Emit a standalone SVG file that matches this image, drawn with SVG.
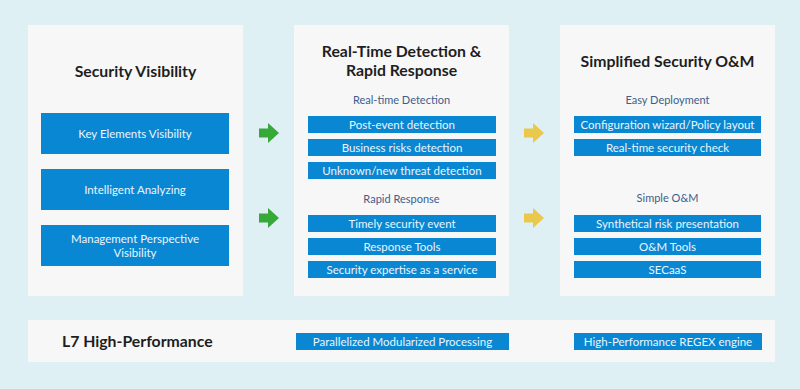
<svg xmlns="http://www.w3.org/2000/svg" width="800" height="389" viewBox="0 0 800 389">
<style>
.panel{fill:#f7f7f7}
.box{fill:#0a87d2}
.bt{font-family:Lato,"Open Sans",sans-serif;font-size:11.5px;fill:#eaf5fc;text-anchor:middle}
.title{font-family:Lato,"Open Sans",sans-serif;font-size:15.8px;font-weight:bold;fill:#1e1e1e;text-anchor:middle}
.sub{font-family:Lato,"Open Sans",sans-serif;font-size:11px;fill:#3d5d8c;text-anchor:middle}
.ga{fill:#36a93a}
.ya{fill:#e9c84c}
</style>
<defs>
<path id="arr" d="M0,-4.5 H9 V-10 L20,0 L9,10 V4.5 H0 Z"/>
</defs>
<rect width="800" height="389" fill="#dff0f5"/>
<g id="visibility">
<rect class="panel" x="28" y="25" width="215" height="271"/>
<text class="title" x="135.5" y="77">Security Visibility</text>
<rect class="box" x="41" y="113" width="188" height="41"/>
<text class="bt" x="135" y="137.5">Key Elements Visibility</text>
<rect class="box" x="41" y="169" width="188" height="41"/>
<text class="bt" x="135" y="193.5">Intelligent Analyzing</text>
<rect class="box" x="41" y="225" width="188" height="41"/>
<text class="bt" x="135" y="243">Management Perspective</text>
<text class="bt" x="135" y="257">Visibility</text>
</g>
<g id="detection">
<rect class="panel" x="294" y="25" width="215" height="271"/>
<text class="title" x="401.5" y="57">Real-Time Detection &amp;</text>
<text class="title" x="401.5" y="76">Rapid Response</text>
<text class="sub" x="401.5" y="104">Real-time Detection</text>
<rect class="box" x="308" y="116" width="188" height="17"/>
<text class="bt" x="402" y="128.5">Post-event detection</text>
<rect class="box" x="308" y="139" width="188" height="17"/>
<text class="bt" x="402" y="151.5">Business risks detection</text>
<rect class="box" x="308" y="162" width="188" height="17"/>
<text class="bt" x="402" y="174.5">Unknown/new threat detection</text>
<text class="sub" x="401.5" y="203">Rapid Response</text>
<rect class="box" x="308" y="215" width="188" height="17"/>
<text class="bt" x="402" y="227.5">Timely security event</text>
<rect class="box" x="308" y="238" width="188" height="17"/>
<text class="bt" x="402" y="250.5">Response Tools</text>
<rect class="box" x="308" y="261" width="188" height="17"/>
<text class="bt" x="402" y="273.5">Security expertise as a service</text>
</g>
<g id="om">
<rect class="panel" x="560" y="25" width="215" height="271"/>
<text class="title" x="667.5" y="67">Simplified Security O&amp;M</text>
<text class="sub" x="667.5" y="104">Easy Deployment</text>
<rect class="box" x="574" y="116" width="187" height="17"/>
<text class="bt" x="667.5" y="128.5">Configuration wizard/Policy layout</text>
<rect class="box" x="574" y="139" width="187" height="17"/>
<text class="bt" x="667.5" y="151.5">Real-time security check</text>
<text class="sub" x="667.5" y="202">Simple O&amp;M</text>
<rect class="box" x="574" y="215" width="187" height="17"/>
<text class="bt" x="667.5" y="227.5">Synthetical risk presentation</text>
<rect class="box" x="574" y="238" width="187" height="17"/>
<text class="bt" x="667.5" y="250.5">O&amp;M Tools</text>
<rect class="box" x="574" y="261" width="187" height="17"/>
<text class="bt" x="667.5" y="273.5">SECaaS</text>
</g>
<g id="performance">
<rect class="panel" x="28" y="320" width="747" height="42"/>
<text class="title" x="62" y="347" style="text-anchor:start">L7 High-Performance</text>
<rect class="box" x="296" y="333" width="213" height="17"/>
<text class="bt" x="402.5" y="345.5">Parallelized Modularized Processing</text>
<rect class="box" x="574" y="333" width="188" height="17"/>
<text class="bt" x="668" y="345.5">High-Performance REGEX engine</text>
</g>
<g id="connectors">
<use href="#arr" class="ga" x="259" y="133"/>
<use href="#arr" class="ga" x="259" y="218"/>
<use href="#arr" class="ya" x="524" y="133"/>
<use href="#arr" class="ya" x="524" y="218"/>
</g>
</svg>
